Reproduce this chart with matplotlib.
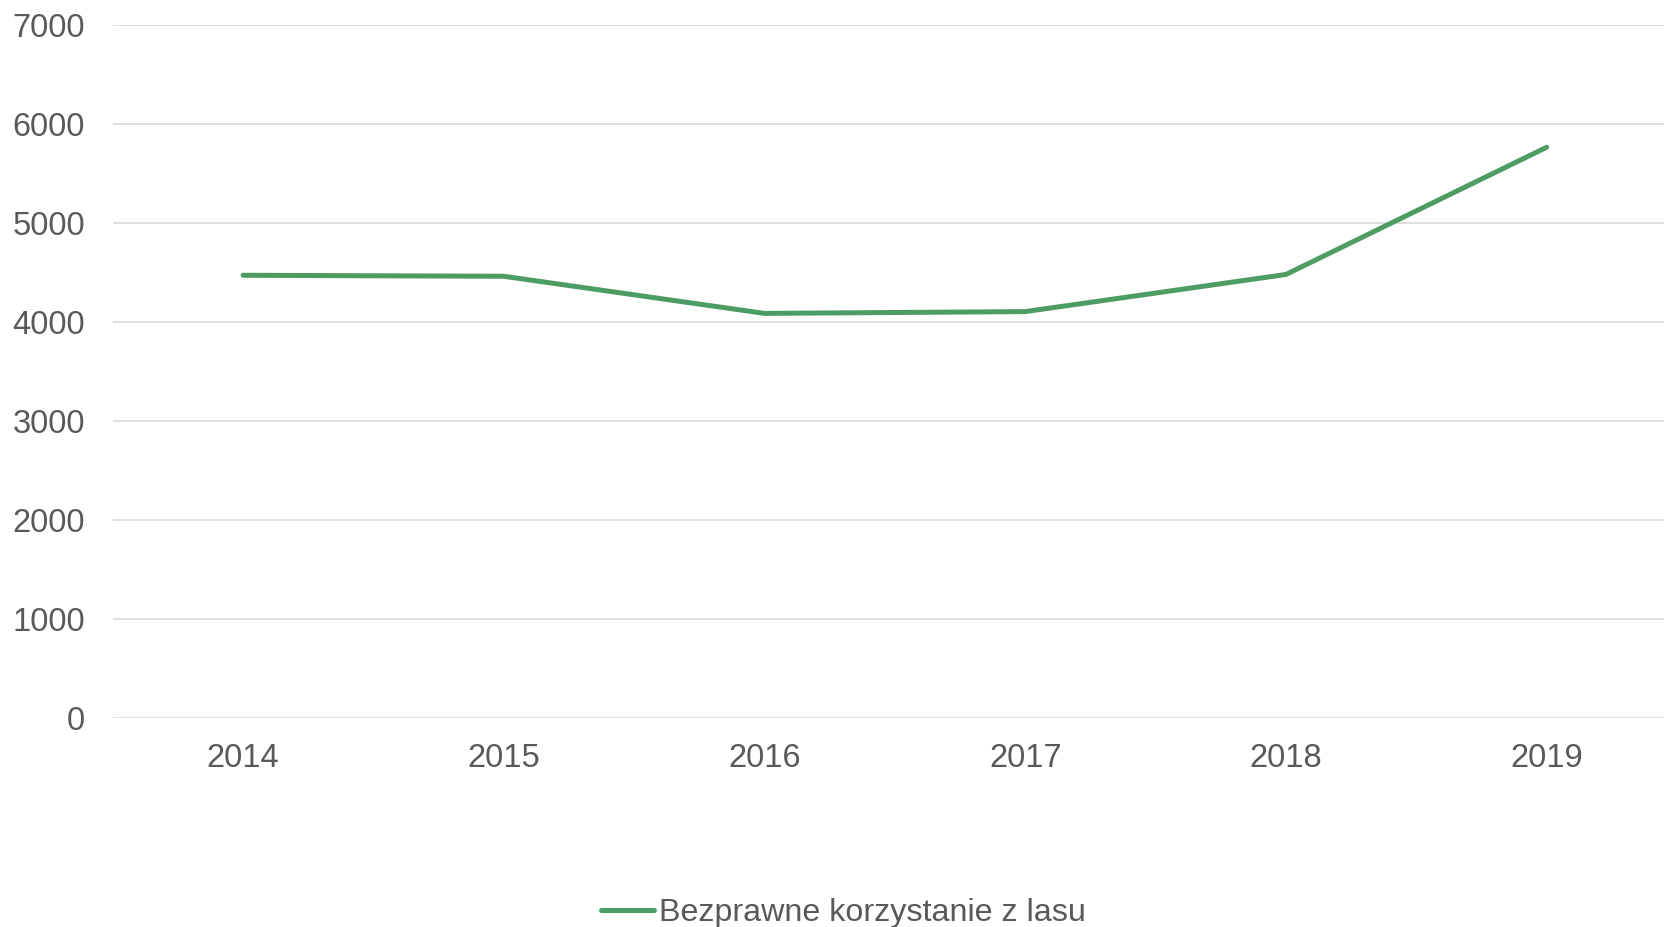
import matplotlib.pyplot as plt

years = ["2014", "2015", "2016", "2017", "2018", "2019"]
values = [4475, 4465, 4090, 4108, 4483, 5768]
series_name = "Bezprawne korzystanie z lasu"
y_ticks = [0, 1000, 2000, 3000, 4000, 5000, 6000, 7000]

plt.rcParams["font.family"] = ["Liberation Sans", "DejaVu Sans"]

W, H = 1665, 927
fig = plt.figure(figsize=(W / 100, H / 100), dpi=100)

# plot area in pixels (right edge runs past the figure like the reference)
left, right, top, bottom = 112.7, 1677.0, 25.3, 718.3
ax = fig.add_axes([left / W, (H - bottom) / H, (right - left) / W, (bottom - top) / H])

x = list(range(len(years)))
ax.plot(x, values, color="#4C9C64", lw=3.6, solid_capstyle="round",
        solid_joinstyle="miter", label=series_name, zorder=3)

ax.set_xlim(-0.5, len(years) - 0.5)
ax.set_ylim(0, 7000)
ax.set_xticks(x)
ax.set_xticklabels(years)
ax.set_yticks(y_ticks)
ax.yaxis.grid(True, color="#D9D9D9", lw=1.2)
ax.set_axisbelow(True)
for s in ax.spines.values():
    s.set_visible(False)
ax.tick_params(axis="both", length=0, labelsize=23.5, labelcolor="#595959")
ax.tick_params(axis="y", pad=20)
ax.tick_params(axis="x", pad=17.5)

fig.legend(loc="center", bbox_to_anchor=(843.5 / W, (H - 913) / H), frameon=False,
           fontsize=23.2, labelcolor="#595959", handlelength=1.65, handletextpad=0.15)

fig.savefig("out.png", dpi=100)
